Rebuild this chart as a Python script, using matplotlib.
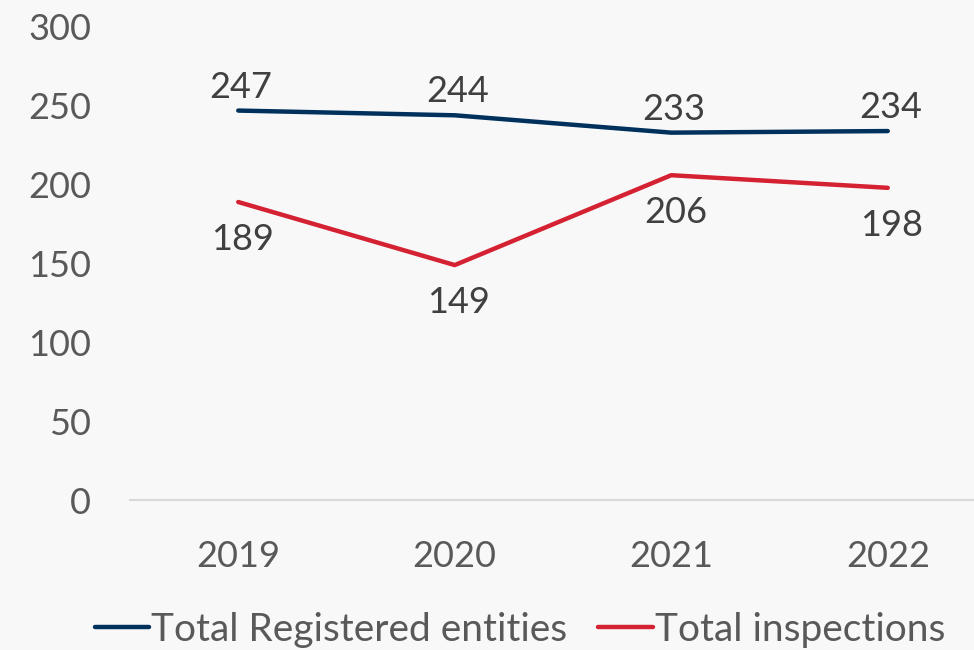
import matplotlib.pyplot as plt

# 数据
years = ['2019', '2020', '2021', '2022']
registered = [247, 244, 233, 234]
inspections = [189, 149, 206, 198]
y_ticks = [0, 50, 100, 150, 200, 250, 300]

navy = '#00305c'
red = '#d42232'
label_color = '#404040'
tick_color = '#595959'

plt.rcParams['font.family'] = ['Lato', 'DejaVu Sans']

fig = plt.figure(figsize=(9.74, 6.5), dpi=100)
fig.patch.set_facecolor('#f8f8f9')
ax = fig.add_axes([130 / 974, 150 / 650, 866 / 974, 473 / 650])
ax.set_facecolor('none')

x = range(len(years))
ax.plot(x, registered, color=navy, lw=3.2, solid_capstyle='round',
        solid_joinstyle='round', label='Total Registered entities')
ax.plot(x, inspections, color=red, lw=3.2, solid_capstyle='round',
        solid_joinstyle='round', label='Total inspections')

# 数值标签
for i in x:
    ax.annotate(str(registered[i]), (i, registered[i]), xytext=(2, 5),
                textcoords='offset points', ha='center', va='bottom',
                fontsize=26, color=label_color)
    ax.annotate(str(inspections[i]), (i, inspections[i]), xytext=(3, -15),
                textcoords='offset points', ha='center', va='top',
                fontsize=26, color=label_color)

ax.set_xlim(-0.5, 3.5)
ax.set_ylim(0, 300)
ax.set_yticks(y_ticks)
ax.set_xticks(list(x))
ax.set_xticklabels(years)
ax.tick_params(axis='both', length=0, labelsize=26, colors=tick_color)
ax.tick_params(axis='y', pad=28)
ax.tick_params(axis='x', pad=29)

for s in ['top', 'right', 'left']:
    ax.spines[s].set_visible(False)
ax.spines['bottom'].set_color('#d9d9d9')
ax.spines['bottom'].set_linewidth(1.5)

# 图例
fig.legend(loc='center', bbox_to_anchor=(520 / 974, 1 - 630 / 650), ncol=2,
           frameon=False, fontsize=28, handlelength=1.4, handletextpad=0.05,
           columnspacing=0.8, labelcolor=tick_color)

plt.savefig('out.png', dpi=100, facecolor=fig.get_facecolor())
